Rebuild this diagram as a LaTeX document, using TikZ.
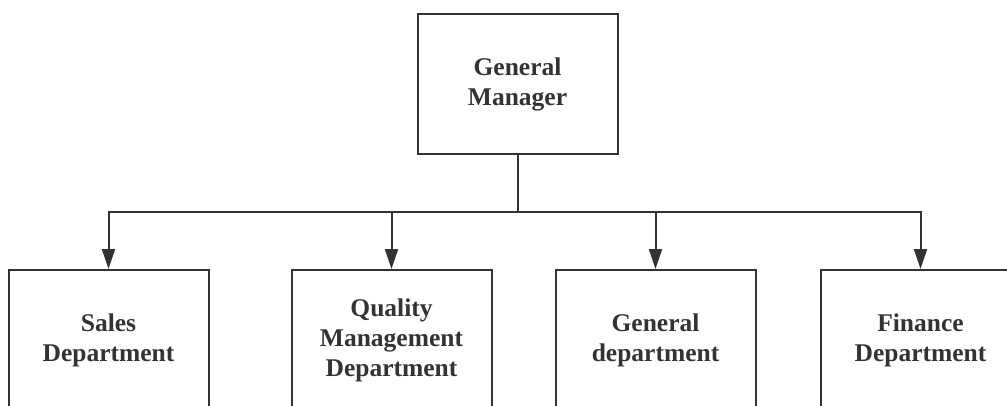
\documentclass[tikz,border=0pt]{standalone}
\usepackage{fontspec}
\setmainfont{Liberation Serif}[BoldFont={Liberation Serif Bold}]
\usetikzlibrary{arrows.meta}
\definecolor{ink}{HTML}{333333}
\begin{document}
\begin{tikzpicture}[x=1pt,y=-1pt,
  box/.style={draw=ink,line width=2pt,fill=white,minimum width=200pt,minimum height=140pt,
    inner sep=0pt,align=center,text=ink,font=\fontsize{25.5}{30}\selectfont\bfseries},
  conn/.style={draw=ink,line width=2pt},
  arr/.style={conn,-{Triangle[length=20pt,width=13pt]}}]
\useasboundingbox (0,0) rectangle (1007,405);
\clip (0,0) rectangle (1007,405);
\node[box] (gm) at (517.5,84) {General\\Manager};
\node[box] (sales) at (108.5,340) {Sales\\Department};
\node[box] (qual) at (391.5,340) {Quality\\Management\\Department};
\node[box] (gen) at (655.5,340) {General\\department};
\node[box] (fin) at (920.5,340) {Finance\\Department};
\coordinate (bus) at (517.5,212);
\draw[conn] (gm.south) -- (bus);
\draw[arr] (bus) -| (sales.north);
\draw[arr] (bus) -| (qual.north);
\draw[arr] (bus) -| (gen.north);
\draw[arr] (bus) -| (fin.north);
\end{tikzpicture}
\end{document}
